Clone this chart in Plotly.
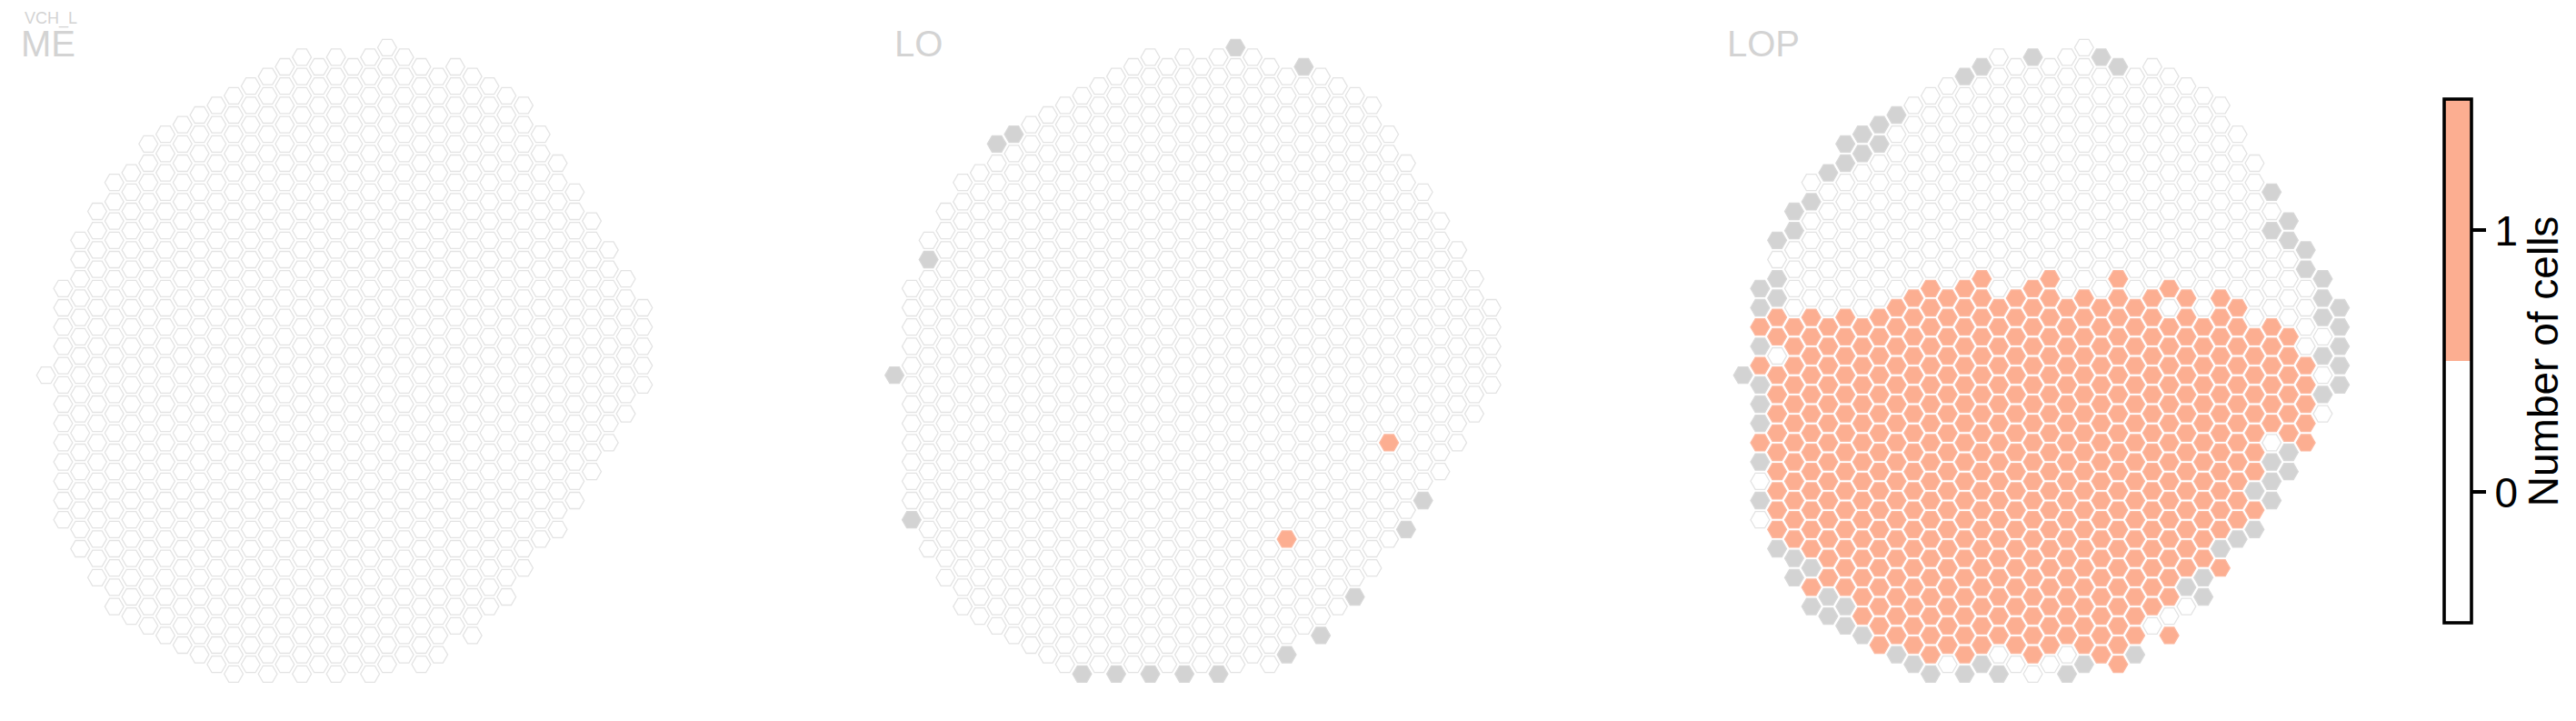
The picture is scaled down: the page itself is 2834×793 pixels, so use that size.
import plotly.graph_objects as go

W, H = 2834, 793
panel_names = ["ME", "LO", "LOP"]
super_title = "VCH_L"
col_first_row = [34, 25, 20, 17, 14, 13, 10, 9, 8, 7, 6, 5, 4, 3, 2, 1, 2, 1, 2, 1, 0, 1, 2, 3, 2, 3, 4, 5, 6, 9, 12, 15, 18, 21, 24, 27]
# LOP states per lattice column, run-length coded from the column's first row down
# w = 0 cells, s = 1 cell, g = no data
lop_columns = [
    "1g", "2g 1s 1g 1s 3g 1s 1g 1w 1g 1w", "1g 1w 2g 2s 1w 9s 1g", "2g 4w 12s 2g",
    "1w 1g 5w 13s 1g 1s 1g", "1g 7w 14s 2g", "2g 7w 15s 2g", "2g 8w 16s 1g",
    "2g 8w 18s", "1g 9w 18s 1g", "10w 19s 1g", "10w 20s 1g",
    "11w 19s 1w", "1g 10w 20s 1g", "1g 10w 20s 1g", "13w 18s 1w 1g",
    "12w 19s 1w", "1g 11w 20s 1w", "11w 20s 1w", "13w 18s 1w 1g",
    "13w 19s 1g", "1g 12w 19s", "1g 10w 21s", "12w 18s 1g",
    "12w 17s 1w", "11w 1s 1w 15s 1w 1s", "11w 15s 1g 1w", "12w 13s 2g",
    "10w 13s 1g 1s", "9w 12s 1g", "9w 8s 1g 1s 1g", "1g 1w 1g 4w 6s 1w 3g",
    "2g 4w 6s 2g", "2g 4w 5s", "3g 1w 1g 1w 1g 1w", "5g",
]
lo_gray = [(20, 0), (24, 2), (7, 9), (6, 10), (2, 22), (0, 34), (1, 49), (31, 47), (30, 50),
           (27, 57), (25, 61), (23, 63), (11, 65), (13, 65), (15, 65), (17, 65), (19, 65)]
lo_one = [(29, 41), (23, 51)]
colorbar_ticks = [0, 1]
colorbar_title = "Number of cells"

WHITE, SALMON, GRAY = "#ffffff", "#fcae91", "#d3d3d3"
EDGE_W, EDGE_S, EDGE_G = "#e3e3e3", "#fcb8a0", "#d8d8d8"
FONT = "Liberation Sans"

lop = {}
for c, (first, code) in enumerate(zip(col_first_row, lop_columns)):
    k = first
    for run in code.split():
        for _ in range(int(run[:-1])):
            lop[(c, k)] = run[-1]
            k += 2
lattice = list(lop)

me = {p: "w" for p in lattice}
lo = {p: "w" for p in lattice}
lo.update({p: "g" for p in lo_gray})
lo.update({p: "s" for p in lo_one})

C0, DC, K0, DK = 50.7, 18.76, 52.3, 10.6
OFFS = [0, 933.4, 1866.9]
CMIN, CMAX, KMIN, KMAX = -1, 36, -3, 68
scale = [[0, WHITE], [0.5, WHITE], [0.5, SALMON], [1, SALMON]]

fig = go.Figure()
for i, (name, cells) in enumerate(zip(panel_names, [me, lo, lop])):
    ax = "" if i == 0 else str(i + 1)
    left = C0 + OFFS[i] + CMIN * DC
    right = C0 + OFFS[i] + CMAX * DC
    fig.update_layout({
        f"xaxis{ax}": dict(domain=[left / W, right / W], range=[CMIN, CMAX], visible=False, fixedrange=True),
        f"yaxis{ax}": dict(domain=[1 - (K0 + KMAX * DK) / H, 1 - (K0 + KMIN * DK) / H], range=[KMAX, KMIN],
                           visible=False, fixedrange=True),
    })
    g = [p for p, s in cells.items() if s == "g"]
    v = [p for p, s in cells.items() if s != "g"]
    fig.add_trace(go.Scatter(
        x=[p[0] for p in g], y=[p[1] for p in g], mode="markers", xaxis=f"x{ax}", yaxis=f"y{ax}",
        marker=dict(symbol="hexagon2", size=20.8, color=GRAY, line=dict(color=EDGE_G, width=1.3)),
        showlegend=False, hoverinfo="skip"))
    mk = dict(symbol="hexagon2", size=20.8,
              line=dict(color=[EDGE_S if cells[p] == "s" else EDGE_W for p in v], width=1.3),
              color=[1 if cells[p] == "s" else 0 for p in v], colorscale=scale, cmin=-0.5, cmax=1.5)
    if i == 2:
        mk.update(showscale=True, colorbar=dict(
            thickness=30, thicknessmode="pixels",
            len=(687 - 107.6 - 3.6) / H, lenmode="fraction",
            x=2688.5 / W, xanchor="left", xpad=0,
            y=1 - 109.4 / H, yanchor="top", ypad=0,
            outlinecolor="black", outlinewidth=3.6, bordercolor="rgba(0,0,0,0)", borderwidth=0,
            ticks="outside", ticklen=15, tickwidth=3.6, tickcolor="black",
            tickvals=colorbar_ticks, ticktext=[str(t) for t in colorbar_ticks],
            tickfont=dict(family=FONT, size=46, color="black"),
            title=dict(text=colorbar_title, side="right", font=dict(family=FONT, size=46, color="black")),
        ))
    else:
        mk.update(showscale=False)
    fig.add_trace(go.Scatter(
        x=[p[0] for p in v], y=[p[1] for p in v], mode="markers", xaxis=f"x{ax}", yaxis=f"y{ax}",
        marker=mk, showlegend=False, hoverinfo="skip"))

for i, (name, x) in enumerate(zip(panel_names, [22, 983, 1899])):
    fig.add_annotation(text=name, xref="paper", yref="paper", x=x / W, y=1 - 71 / H, xanchor="left", yanchor="bottom",
                       showarrow=False, font=dict(family=FONT, size=40, color=GRAY), borderpad=0)
fig.add_annotation(text=super_title, xref="paper", yref="paper", x=26 / W, y=1 - 32 / H, xanchor="left", yanchor="bottom",
                   showarrow=False, font=dict(family=FONT, size=18, color=GRAY), borderpad=0)

fig.update_layout(width=W, height=H, margin=dict(l=0, r=0, t=0, b=0, autoexpand=False),
                  paper_bgcolor="white", plot_bgcolor="rgba(0,0,0,0)")
fig.write_html("out.html", config={"displayModeBar": False},
               post_script="document.body.style.margin='0';")
